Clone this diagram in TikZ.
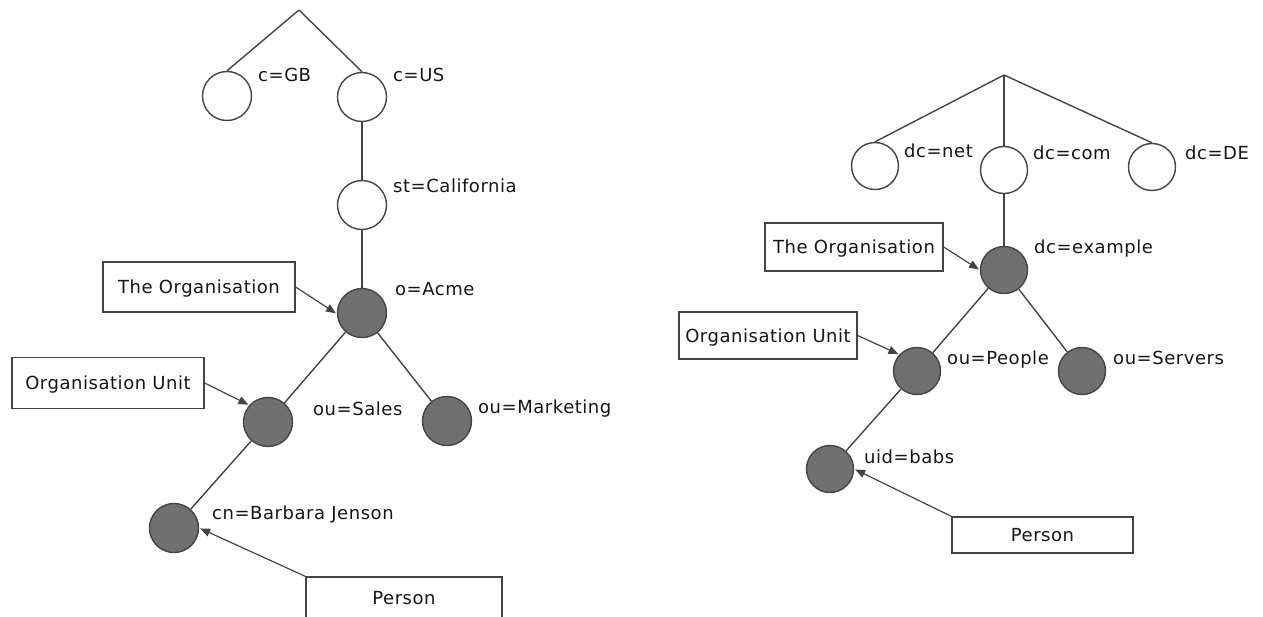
\documentclass[tikz,border=0pt]{standalone}
\usepackage{fontspec}
\setmainfont[LetterSpace=3]{DejaVu Sans}
\usetikzlibrary{arrows.meta}
\definecolor{edge}{HTML}{444444}
\definecolor{entry}{HTML}{707070}
\definecolor{ink}{HTML}{161616}
\begin{document}
\begin{tikzpicture}[x=1pt,y=-1pt,
  every node/.style={font=\fontsize{18}{21}\selectfont, text=ink},
  empty/.style={circle, draw=edge, line width=1.4pt, fill=white, minimum size=49pt, inner sep=0pt},
  filled/.style={empty, fill=entry},
  smallempty/.style={empty, minimum size=47pt},
  smallfilled/.style={filled, minimum size=47pt},
  lbl/.style={anchor=base west, inner sep=0pt},
  tag/.style={draw=edge, line width=1.3pt, fill=white, inner sep=0pt,
              text height=13pt, text depth=0pt},
  link/.style={draw=edge, line width=1.4pt},
  pointer/.style={link, line width=1.2pt, -{Triangle[length=10pt,width=8pt]}, shorten >=1pt}]

\useasboundingbox (0,0) rectangle (1263,616);
\clip (0,0) rectangle (1263,616);

% ---------- country based naming tree ----------
\coordinate (lroot) at (299,10);
\node[empty]  (gb)    at (227,96)  {};
\node[empty]  (us)    at (362,97)  {};
\node[empty]  (calif) at (362,205) {};
\node[filled] (acme)  at (362,313) {};
\node[filled] (sales) at (268,422) {};
\node[filled] (mkt)   at (447,421) {};
\node[filled] (barb)  at (174,528) {};

\node[lbl] at (258,81)  {c=GB};
\node[lbl] at (393,81)  {c=US};
\node[lbl] at (393,192) {st=California};
\node[lbl] at (395,295) {o=Acme};
\node[lbl] at (313,415) {ou=Sales};
\node[lbl] at (478,413) {ou=Marketing};
\node[lbl] at (212,519) {cn=Barbara Jenson};

\draw[link] (lroot) -- (gb.north);
\draw[link] (lroot) -- (us.north);
\draw[link] (us) -- (calif);
\draw[link] (calif) -- (acme);
\draw[link] (acme) -- (sales);
\draw[link] (acme) -- (mkt);
\draw[link] (sales) -- (barb);

\node[tag, minimum width=192pt, minimum height=50pt] (lorg)  at (199,287)   {The Organisation};
\node[tag, minimum width=192pt, minimum height=51pt] (lunit) at (108,383)   {Organisation Unit};
\node[tag, minimum width=196pt, minimum height=42pt] (lpers) at (404,598)   {Person};

\draw[pointer] (lorg.east)        -- (acme.182);
\draw[pointer] (lunit.east)       -- (sales.138);
\draw[pointer] (lpers.north west) -- (barb.east);

% ---------- domain component naming tree ----------
\coordinate (rroot) at (1004,75);
\node[smallempty]  (net)    at (875,166)  {};
\node[smallempty]  (com)    at (1004,170) {};
\node[smallempty]  (de)     at (1152,167) {};
\node[smallfilled] (exa)    at (1004,270) {};
\node[smallfilled] (people) at (917,371)  {};
\node[smallfilled] (serv)   at (1082,371) {};
\node[smallfilled] (babs)   at (830,469)  {};

\node[lbl] at (904,157)  {dc=net};
\node[lbl] at (1033,159) {dc=com};
\node[lbl] at (1185,159) {dc=DE};
\node[lbl] at (1034,253) {dc=example};
\node[lbl] at (947,364)  {ou=People};
\node[lbl] at (1113,364) {ou=Servers};
\node[lbl] at (864,463)  {uid=babs};

\draw[link] (rroot) -- (net.north);
\draw[link] (rroot) -- (com.north);
\draw[link] (rroot) -- (de.north);
\draw[link] (com) -- (exa);
\draw[link] (exa) -- (people);
\draw[link] (exa) -- (serv);
\draw[link] (people) -- (babs);

\node[tag, minimum width=178pt, minimum height=48pt] (rorg)  at (854,247)    {The Organisation};
\node[tag, minimum width=178pt, minimum height=47pt] (runit) at (768,335.5)  {Organisation Unit};
\node[tag, minimum width=181pt, minimum height=36pt] (rpers) at (1042.5,535) {Person};

\draw[pointer] (rorg.east)        -- (exa.west);
\draw[pointer] (runit.east)       -- (people.137);
\draw[pointer] (rpers.north west) -- (babs.east);
\end{tikzpicture}
\end{document}
